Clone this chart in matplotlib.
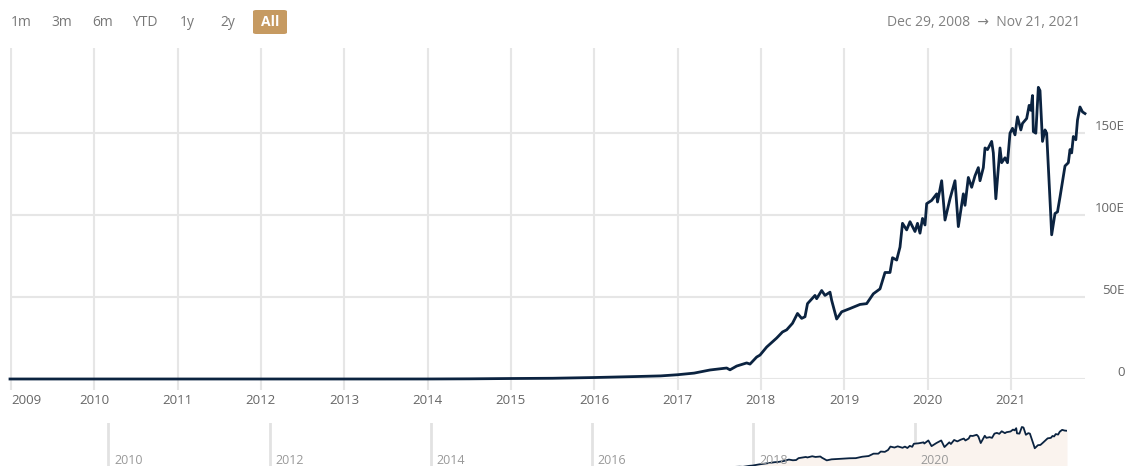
import numpy as np
import matplotlib.pyplot as plt
from matplotlib.patches import FancyBboxPatch

# hashrate (EH/s) by decimal year
years = [2008.99, 2010.0, 2011.0, 2012.0, 2013.0, 2013.5, 2014.0, 2014.5, 2015.0, 2015.5,
         2016.0, 2016.5, 2016.8, 2017.0, 2017.2, 2017.39, 2017.59, 2017.63, 2017.71, 2017.83,
         2017.87, 2017.95, 2017.99, 2018.07, 2018.19, 2018.26, 2018.31, 2018.38, 2018.44, 2018.49,
         2018.53, 2018.56, 2018.65, 2018.67, 2018.73, 2018.77, 2018.83, 2018.85, 2018.91, 2018.97,
         2019.07, 2019.19, 2019.27, 2019.35, 2019.43, 2019.49, 2019.55, 2019.58, 2019.63, 2019.67,
         2019.70, 2019.75, 2019.79, 2019.85, 2019.88, 2019.91, 2019.94, 2019.97, 2019.99, 2020.05,
         2020.11, 2020.12, 2020.17, 2020.21, 2020.27, 2020.33, 2020.37, 2020.43, 2020.45, 2020.49,
         2020.53, 2020.57, 2020.61, 2020.63, 2020.67, 2020.69, 2020.72, 2020.77, 2020.79, 2020.82,
         2020.87, 2020.89, 2020.93, 2020.96, 2020.99, 2021.02, 2021.05, 2021.08, 2021.12, 2021.14,
         2021.19, 2021.22, 2021.24, 2021.26, 2021.27, 2021.30, 2021.33, 2021.35, 2021.38, 2021.41,
         2021.43, 2021.48, 2021.49, 2021.53, 2021.56, 2021.59, 2021.65, 2021.69, 2021.71, 2021.73,
         2021.75, 2021.78, 2021.80, 2021.83, 2021.86, 2021.89]
hashrate = [0, 0, 0.00001, 0.00002, 0.00003, 0.0002, 0.01, 0.1, 0.3, 0.45,
            0.9, 1.5, 1.9, 2.6, 3.6, 5.5, 6.7, 5.6, 7.9, 9.8,
            9.1, 13.4, 14.6, 19.5, 25, 28.7, 30, 34, 40, 37,
            38, 46, 51, 49, 54, 51, 53, 48, 36.6, 41,
            43, 45.5, 46, 52, 55, 65, 65, 74, 72.6, 80.5,
            95, 91, 96, 90, 95, 89, 98, 94, 107, 109,
            113, 108, 121, 97, 110, 121, 93, 113, 106, 123,
            117, 124, 129, 121, 129, 141, 140, 145, 138, 110,
            141, 132, 135, 132, 150, 153, 149, 160, 152, 156,
            159, 167, 164, 173, 151, 150, 178, 176, 145, 152,
            150, 99, 88, 101, 102, 111, 130, 132, 140, 138,
            148, 146, 158, 166, 163, 162]

year_ticks = list(range(2009, 2022))
nav_ticks = [2010, 2012, 2014, 2016, 2018, 2020]
value_ticks = [0, 50, 100, 150]
value_labels = ['0', '50E', '100E', '150E']
buttons = ['1m', '3m', '6m', 'YTD', '1y', '2y', 'All']

plt.rcParams['font.family'] = ['Open Sans', 'DejaVu Sans']

W, H = 1131, 466
fig = plt.figure(figsize=(W / 100, H / 100), dpi=100)

line_col = '#0b2340'
grid_col = '#e6e6e6'
label_col = '#666666'


def px_axes(x0, y0, x1, y1):
    return fig.add_axes([x0 / W, 1 - y1 / H, (x1 - x0) / W, (y1 - y0) / H])


# main chart
ax = px_axes(10, 48, 1085, 379)
ax.plot(years, hashrate, color=line_col, lw=2.0, solid_joinstyle='round', clip_on=False, zorder=3)
ax.set_xlim(2008.99, 2021.89)
ax.set_ylim(0, 202)
ax.set_xticks(year_ticks)
ax.set_xticklabels([str(y) for y in year_ticks])
ax.set_yticks(value_ticks)
ax.set_yticklabels([])
ax.grid(True, color=grid_col, lw=1.5)
ax.tick_params(axis='x', length=8, width=1.5, color=grid_col, labelsize=9.5,
               labelcolor=label_col, pad=3)
ax.tick_params(axis='y', length=0)
for s in ax.spines.values():
    s.set_visible(False)
ax.get_xticklabels()[0].set_horizontalalignment('left')
for v, lab in zip(value_ticks, value_labels):
    ax.annotate(lab, xy=(1, v), xycoords=('axes fraction', 'data'),
                xytext=(40, 7), textcoords='offset pixels', ha='right', va='center',
                fontsize=9.5, color=label_col)

# navigator (zero line sits just below the visible area)
nav = px_axes(27, 423, 1067, 469)
nav.fill_between(years, hashrate, 0, color='#faf3ee', lw=0)
nav.plot(years, hashrate, color=line_col, lw=1.3)
nav.set_xlim(2008.99, 2021.89)
nav.set_ylim(0, 195)
for t in nav_ticks:
    nav.axvline(t, color='#e2e2e2', lw=2, zorder=0)
    nav.text(t + 0.07, 7, str(t), fontsize=9, color='#999999', va='bottom', ha='left')
nav.set_xticks([])
nav.set_yticks([])
for s in nav.spines.values():
    s.set_visible(False)
nav.patch.set_alpha(0)

# range selector buttons
btn_x = [21, 62, 103, 145, 187, 228, 270]
for bx, b in zip(btn_x, buttons):
    if b == 'All':
        fig.patches.append(FancyBboxPatch(((bx - 17) / W, 1 - 34 / H), 34 / W, 24 / H,
                                          boxstyle='round,pad=0,rounding_size=0.003',
                                          transform=fig.transFigure, fc='#c69a61', ec='none'))
        fig.text(bx / W, 1 - 22 / H, b, ha='center', va='center', fontsize=10,
                 color='white', fontweight='bold')
    else:
        fig.text(bx / W, 1 - 22 / H, b, ha='center', va='center', fontsize=10,
                 color='#777777')

fig.text(1080 / W, 1 - 22 / H, 'Dec 29, 2008  \u2192  Nov 21, 2021', ha='right', va='center',
         fontsize=10, color='#808080')

fig.savefig('out.png', dpi=100)
